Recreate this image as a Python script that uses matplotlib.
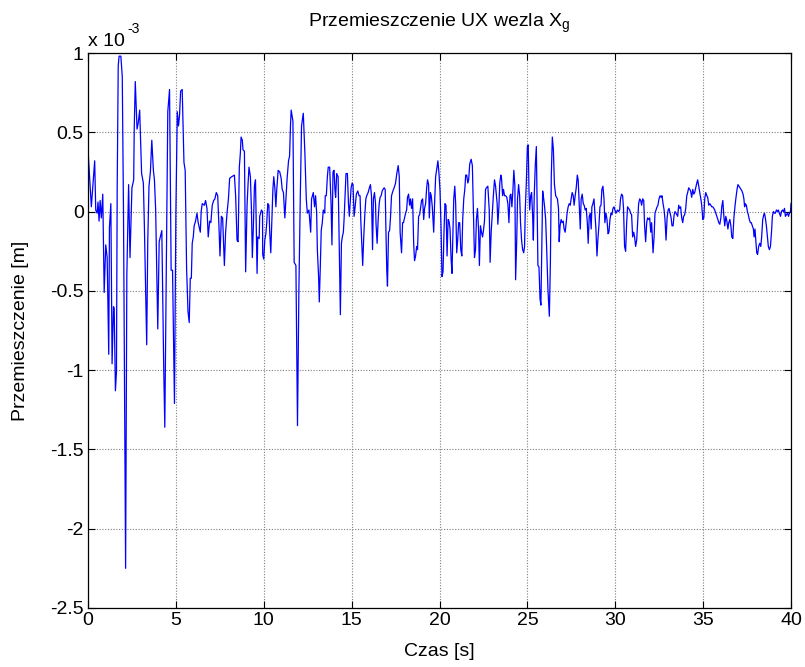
import matplotlib
matplotlib.use("Agg")
import matplotlib.pyplot as plt

plt.rcParams['font.family'] = ['Liberation Sans', 'DejaVu Sans']
plt.rcParams['mathtext.fontset'] = 'custom'
plt.rcParams['mathtext.rm'] = 'Liberation Sans'
plt.rcParams['mathtext.it'] = 'Liberation Sans'

# time [s]
t = [0.00, 0.19, 0.38, 0.44, 0.52, 0.57, 0.63, 0.69, 0.76, 0.84, 0.92, 1.01, 1.09, 1.18, 1.22, 1.30, 1.37, 1.45, 1.49, 1.56,
     1.62, 1.66, 1.72, 1.77, 1.87, 1.95, 2.02, 2.14, 2.21, 2.31, 2.39, 2.50, 2.60, 2.63, 2.69, 2.79, 2.86, 2.94, 3.05, 3.15,
     3.21, 3.34, 3.40, 3.47, 3.55, 3.63, 3.72, 3.78, 3.85, 3.97, 4.05, 4.20, 4.31, 4.37, 4.47, 4.54, 4.64, 4.73, 4.81, 4.92,
     5.00, 5.08, 5.15, 5.21, 5.27, 5.36, 5.46, 5.53, 5.61, 5.69, 5.76, 5.82, 5.88, 5.93, 5.99, 6.04, 6.12, 6.20, 6.27, 6.39,
     6.44, 6.50, 6.62, 6.69, 6.77, 6.84, 6.92, 6.99, 7.07, 7.15, 7.22, 7.30, 7.38, 7.45, 7.51, 7.59, 7.66, 7.76, 7.83, 7.91,
     7.99, 8.06, 8.18, 8.33, 8.40, 8.48, 8.54, 8.61, 8.67, 8.71, 8.78, 8.82, 8.90, 8.97, 9.05, 9.11, 9.16, 9.24, 9.30, 9.35,
     9.41, 9.47, 9.53, 9.62, 9.66, 9.74, 9.77, 9.87, 9.93, 9.94, 10.00, 10.06, 10.12, 10.17, 10.23, 10.29, 10.34, 10.40, 10.46, 10.52,
     10.57, 10.63, 10.69, 10.74, 10.82, 10.91, 10.99, 11.05, 11.12, 11.20, 11.26, 11.33, 11.41, 11.47, 11.52, 11.56, 11.66, 11.73, 11.83, 11.92,
     12.00, 12.08, 12.15, 12.25, 12.34, 12.42, 12.48, 12.57, 12.67, 12.72, 12.82, 12.89, 12.95, 13.01, 13.05, 13.12, 13.16, 13.22, 13.27, 13.33,
     13.39, 13.47, 13.50, 13.56, 13.62, 13.67, 13.75, 13.83, 13.88, 13.94, 14.00, 14.05, 14.09, 14.15, 14.23, 14.30, 14.36, 14.42, 14.47, 14.53,
     14.57, 14.63, 14.68, 14.76, 14.82, 14.87, 14.93, 14.97, 15.03, 15.08, 15.14, 15.20, 15.27, 15.35, 15.42, 15.48, 15.52, 15.58, 15.63, 15.69,
     15.75, 15.81, 15.86, 15.94, 16.01, 16.07, 16.13, 16.19, 16.24, 16.30, 16.36, 16.39, 16.45, 16.51, 16.57, 16.62, 16.68, 16.74, 16.79, 16.85,
     16.91, 16.95, 17.00, 17.04, 17.10, 17.16, 17.21, 17.27, 17.35, 17.42, 17.50, 17.57, 17.65, 17.71, 17.76, 17.84, 17.90, 17.95, 18.01, 18.07,
     18.13, 18.18, 18.24, 18.30, 18.35, 18.41, 18.47, 18.53, 18.58, 18.64, 18.70, 18.75, 18.81, 18.87, 18.93, 18.98, 19.04, 19.10, 19.15, 19.21,
     19.27, 19.32, 19.38, 19.42, 19.48, 19.53, 19.59, 19.67, 19.72, 19.78, 19.86, 19.91, 19.97, 20.03, 20.09, 20.14, 20.20, 20.26, 20.31, 20.37,
     20.43, 20.49, 20.54, 20.60, 20.66, 20.71, 20.77, 20.81, 20.87, 20.92, 20.98, 21.04, 21.09, 21.15, 21.21, 21.27, 21.32, 21.38, 21.44, 21.49,
     21.55, 21.61, 21.66, 21.72, 21.80, 21.87, 21.93, 21.99, 22.05, 22.10, 22.16, 22.22, 22.27, 22.33, 22.39, 22.45, 22.50, 22.56, 22.62, 22.67,
     22.75, 22.83, 22.88, 22.94, 23.02, 23.07, 23.13, 23.19, 23.28, 23.32, 23.38, 23.43, 23.49, 23.53, 23.59, 23.64, 23.70, 23.76, 23.83, 23.89,
     23.95, 24.01, 24.06, 24.12, 24.18, 24.23, 24.29, 24.33, 24.39, 24.44, 24.50, 24.56, 24.61, 24.67, 24.73, 24.79, 24.84, 24.88, 24.94, 25.00,
     25.05, 25.09, 25.13, 25.19, 25.24, 25.30, 25.34, 25.39, 25.45, 25.51, 25.57, 25.60, 25.66, 25.72, 25.77, 25.83, 25.87, 25.93, 25.98, 26.04,
     26.10, 26.17, 26.25, 26.31, 26.36, 26.42, 26.48, 26.54, 26.61, 26.71, 26.77, 26.81, 26.86, 26.92, 26.98, 27.04, 27.09, 27.15, 27.21, 27.26,
     27.32, 27.38, 27.44, 27.49, 27.55, 27.61, 27.66, 27.72, 27.78, 27.84, 27.89, 27.95, 28.01, 28.06, 28.12, 28.18, 28.23, 28.29, 28.35, 28.41,
     28.46, 28.52, 28.58, 28.63, 28.67, 28.73, 28.79, 28.84, 28.90, 28.96, 29.01, 29.07, 29.13, 29.19, 29.24, 29.30, 29.36, 29.41, 29.47, 29.53,
     29.59, 29.64, 29.70, 29.76, 29.81, 29.87, 29.93, 29.98, 30.04, 30.13, 30.19, 30.25, 30.30, 30.36, 30.42, 30.47, 30.53, 30.59, 30.65, 30.70,
     30.76, 30.82, 30.87, 30.93, 30.99, 31.05, 31.10, 31.16, 31.22, 31.27, 31.33, 31.39, 31.45, 31.50, 31.56, 31.62, 31.67, 31.73, 31.79, 31.84,
     31.90, 31.96, 32.02, 32.07, 32.15, 32.21, 32.26, 32.32, 32.38, 32.43, 32.49, 32.55, 32.61, 32.66, 32.72, 32.78, 32.83, 32.89, 32.95, 33.01,
     33.06, 33.12, 33.18, 33.23, 33.29, 33.35, 33.40, 33.46, 33.55, 33.61, 33.67, 33.72, 33.78, 33.84, 33.89, 33.95, 34.01, 34.07, 34.12, 34.18,
     34.24, 34.29, 34.35, 34.41, 34.47, 34.52, 34.58, 34.64, 34.69, 34.75, 34.81, 34.87, 34.92, 34.98, 35.04, 35.09, 35.15, 35.21, 35.26, 35.32,
     35.38, 35.44, 35.49, 35.55, 35.61, 35.66, 35.72, 35.78, 35.84, 35.89, 35.95, 36.01, 36.06, 36.12, 36.18, 36.23, 36.29, 36.35, 36.41, 36.46,
     36.52, 36.58, 36.63, 36.69, 36.75, 36.81, 36.86, 36.93, 36.98, 37.04, 37.10, 37.15, 37.21, 37.27, 37.32, 37.36, 37.40, 37.46, 37.52, 37.57,
     37.63, 37.69, 37.74, 37.80, 37.86, 37.90, 37.95, 38.01, 38.05, 38.10, 38.16, 38.22, 38.28, 38.33, 38.39, 38.45, 38.49, 38.54, 38.60, 38.66,
     38.71, 38.77, 38.83, 38.89, 38.94, 39.00, 39.06, 39.11, 39.17, 39.23, 39.28, 39.34, 39.40, 39.46, 39.51, 39.57, 39.63, 39.68, 39.74, 39.80,
     39.86, 39.91, 39.97, 40.00]

# displacement UX [x 1e-3 m]
ux = [0.39, 0.03, 0.32, 0.01, -0.01, 0.06, -0.06, 0.07, -0.04, 0.11, -0.51, -0.21, -0.29, -0.90, -0.10, 0.05, -0.96, -0.60, -0.61, -1.13,
      -1.01, 0.13, 0.92, 0.98, 0.98, 0.85, -0.01, -2.25, -0.40, 0.17, -0.29, 0.15, 0.20, 0.52, 0.82, 0.52, 0.56, 0.64, 0.24, 0.18,
      -0.10, -0.84, -0.19, 0.16, 0.25, 0.45, 0.26, 0.20, 0.01, -0.74, -0.19, -0.12, -1.00, -1.36, -0.23, 0.63, 0.77, -0.37, -0.37, -1.21,
      -0.01, 0.63, 0.54, 0.61, 0.76, 0.77, 0.31, 0.26, -0.36, -0.63, -0.70, -0.42, -0.42, -0.20, -0.16, -0.09, -0.06, -0.01, -0.07, -0.13,
      0.00, 0.05, 0.04, 0.07, 0.02, -0.16, -0.06, -0.07, 0.04, 0.07, 0.08, 0.12, 0.10, -0.09, -0.28, -0.03, -0.04, -0.34, -0.13, -0.01,
      0.08, 0.21, 0.22, 0.23, 0.10, -0.18, -0.19, 0.28, 0.37, 0.47, 0.45, 0.39, 0.38, -0.38, 0.04, 0.18, 0.28, 0.22, 0.01, -0.29,
      -0.09, 0.16, 0.20, -0.39, -0.16, -0.17, -0.03, 0.01, 0.00, -0.27, -0.30, -0.18, -0.14, -0.07, 0.05, 0.04, -0.13, -0.26, -0.07, 0.14,
      0.22, 0.15, 0.03, 0.14, 0.26, 0.25, 0.21, 0.14, 0.12, -0.04, 0.08, 0.21, 0.32, 0.35, 0.54, 0.64, 0.57, -0.32, -0.34, -1.35,
      -0.49, 0.10, 0.54, 0.62, 0.37, 0.08, -0.01, 0.01, -0.13, 0.08, 0.12, 0.03, 0.10, -0.01, -0.24, -0.41, -0.57, -0.34, -0.12, -0.07,
      0.01, -0.01, 0.10, 0.10, 0.22, 0.28, 0.28, 0.05, -0.21, 0.25, 0.26, 0.14, 0.09, 0.24, 0.22, -0.24, -0.65, -0.20, -0.16, -0.13,
      -0.05, 0.10, 0.24, 0.24, 0.05, -0.03, 0.08, 0.15, 0.18, 0.17, -0.03, 0.03, 0.11, 0.13, 0.10, 0.10, -0.05, -0.20, -0.34, -0.16,
      -0.02, 0.08, 0.10, 0.12, 0.15, 0.17, 0.10, -0.24, 0.08, 0.12, 0.05, -0.08, -0.20, -0.05, 0.05, 0.09, 0.10, 0.13, 0.14, 0.15,
      0.14, -0.11, -0.37, -0.47, -0.13, -0.12, -0.04, 0.10, 0.13, 0.15, 0.18, 0.24, 0.29, 0.22, -0.13, -0.26, -0.07, -0.07, -0.04, -0.01,
      0.01, 0.09, 0.11, 0.04, 0.08, 0.02, 0.08, -0.20, -0.31, -0.28, -0.22, -0.24, -0.03, -0.02, 0.03, 0.07, 0.08, -0.05, 0.02, 0.05,
      0.15, 0.20, 0.17, -0.04, 0.12, 0.10, 0.03, -0.13, 0.05, 0.22, 0.28, 0.32, 0.24, 0.13, -0.11, -0.41, -0.38, -0.11, 0.05, 0.04,
      -0.28, -0.05, -0.06, -0.11, -0.30, -0.39, -0.11, 0.08, 0.16, 0.05, -0.26, -0.17, -0.07, -0.07, -0.24, -0.28, -0.05, 0.08, 0.14, 0.23,
      0.23, 0.18, 0.20, 0.30, 0.33, 0.29, 0.01, -0.29, -0.24, -0.05, 0.02, -0.11, -0.34, -0.09, -0.13, -0.16, -0.12, -0.06, 0.14, 0.15,
      0.16, 0.01, -0.32, -0.13, 0.02, 0.11, 0.20, 0.16, 0.05, -0.08, 0.03, 0.18, 0.23, 0.21, 0.10, 0.14, 0.10, 0.10, 0.09, 0.05,
      -0.07, 0.10, 0.11, 0.03, 0.14, 0.26, 0.16, -0.43, -0.20, 0.08, 0.17, 0.10, -0.07, -0.18, -0.24, -0.26, -0.22, 0.01, 0.18, 0.41,
      0.42, 0.14, 0.01, 0.10, 0.12, -0.03, -0.18, 0.10, 0.29, 0.41, -0.07, -0.34, -0.35, -0.55, -0.59, -0.18, 0.13, 0.08, 0.03, -0.05,
      -0.24, -0.49, -0.66, -0.32, 0.22, 0.47, 0.39, 0.17, 0.10, 0.08, 0.02, -0.19, -0.09, -0.05, -0.07, -0.06, -0.11, -0.13, -0.07, -0.01,
      0.03, 0.05, 0.04, 0.08, 0.12, 0.10, 0.04, 0.10, 0.15, 0.23, 0.20, 0.05, -0.11, 0.08, 0.11, 0.05, 0.04, 0.01, 0.02, -0.07,
      -0.20, -0.03, -0.01, -0.11, 0.03, 0.05, 0.08, -0.01, -0.11, -0.28, -0.18, -0.09, 0.03, 0.04, 0.14, 0.16, 0.08, -0.07, -0.01, -0.05,
      -0.14, -0.13, -0.05, -0.01, -0.02, 0.02, 0.03, 0.01, -0.01, 0.01, 0.00, 0.01, 0.08, 0.11, 0.10, 0.02, -0.22, -0.25, -0.07, 0.03,
      0.02, 0.01, -0.01, -0.02, -0.16, -0.13, -0.16, -0.22, -0.18, -0.07, 0.05, 0.08, 0.07, 0.04, 0.08, 0.07, -0.09, -0.19, -0.07, -0.04,
      -0.05, -0.04, -0.13, -0.07, -0.26, -0.16, -0.01, 0.01, 0.03, 0.04, 0.08, 0.10, 0.09, 0.10, 0.05, 0.01, -0.05, -0.18, -0.04, 0.01,
      0.02, -0.01, -0.04, -0.09, -0.09, -0.02, 0.00, -0.01, -0.03, 0.04, 0.02, 0.03, -0.04, -0.07, -0.03, -0.02, 0.02, 0.10, 0.12, 0.15,
      0.14, 0.13, 0.09, 0.14, 0.11, 0.12, 0.15, 0.18, 0.20, 0.16, 0.12, 0.08, 0.04, -0.05, -0.04, 0.08, 0.12, 0.10, 0.09, 0.04,
      0.05, 0.04, 0.03, 0.03, 0.02, 0.01, -0.01, -0.03, -0.05, -0.07, -0.08, -0.04, 0.03, 0.07, -0.03, -0.09, -0.03, -0.06, -0.11, -0.07,
      -0.05, -0.09, -0.16, -0.17, -0.04, 0.03, 0.08, 0.14, 0.17, 0.16, 0.15, 0.14, 0.13, 0.11, 0.08, 0.03, 0.05, 0.04, 0.00, -0.02,
      -0.05, -0.07, -0.07, -0.09, -0.11, -0.16, -0.11, -0.20, -0.26, -0.27, -0.22, -0.20, -0.22, -0.16, -0.05, -0.02, -0.01, -0.04, -0.09, -0.16,
      -0.22, -0.24, -0.22, -0.13, -0.03, 0.00, -0.01, -0.01, 0.01, 0.00, 0.01, -0.01, -0.03, 0.00, 0.01, 0.00, 0.02, -0.03, -0.02, -0.01,
      -0.03, -0.01, 0.00, 0.05]

xticks = [0, 5, 10, 15, 20, 25, 30, 35, 40]
yticks = [-2.5, -2, -1.5, -1, -0.5, 0, 0.5, 1]
ytick_labels = ['-2.5', '-2', '-1.5', '-1', '-0.5', '0', '0.5', '1']

W, H = 805, 667
FS = 14
fig = plt.figure(figsize=(W / 100, H / 100), dpi=100)
ax = fig.add_axes([88 / W, (H - 608) / H, (791 - 88) / W, (608 - 53) / H])

ax.plot(t, ux, color='#0000ff', linewidth=0.9)

ax.set_xlim(0, 40)
ax.set_ylim(-2.5, 1)
ax.set_xticks(xticks)
ax.set_xticklabels([str(v) for v in xticks])
ax.set_yticks(yticks)
ax.set_yticklabels(ytick_labels)
ax.grid(True, color='#7f7f7f', linestyle=(0, (1, 1.5)), linewidth=0.8)
ax.tick_params(direction='in', length=5, width=0.8, top=True, right=True,
               labelsize=FS, pad=3, colors='black')
for s in ax.spines.values():
    s.set_linewidth(0.9)

ax.set_xlabel('Czas [s]', fontsize=FS)
ax.xaxis.set_label_coords(0.5, -(652 - 608) / (608 - 53), transform=ax.transAxes)
ax.xaxis.label.set_va('center')
ax.set_ylabel('Przemieszczenie [m]', fontsize=FS)
ax.yaxis.set_label_coords(-(88 - 21) / (791 - 88), 0.5, transform=ax.transAxes)
ax.yaxis.label.set_va('center')

fig.text(439.5 / W, 1 - 27 / H, r'Przemieszczenie UX wezla X$_\mathregular{g}$',
         fontsize=FS, ha='center', va='baseline')
fig.text(88 / W, 1 - 46 / H, 'x 10', fontsize=FS, ha='left', va='baseline')
fig.text(127 / W, 1 - 33 / H, '-3', fontsize=FS * 0.72, ha='left', va='baseline')

fig.savefig('out.png', dpi=100)
